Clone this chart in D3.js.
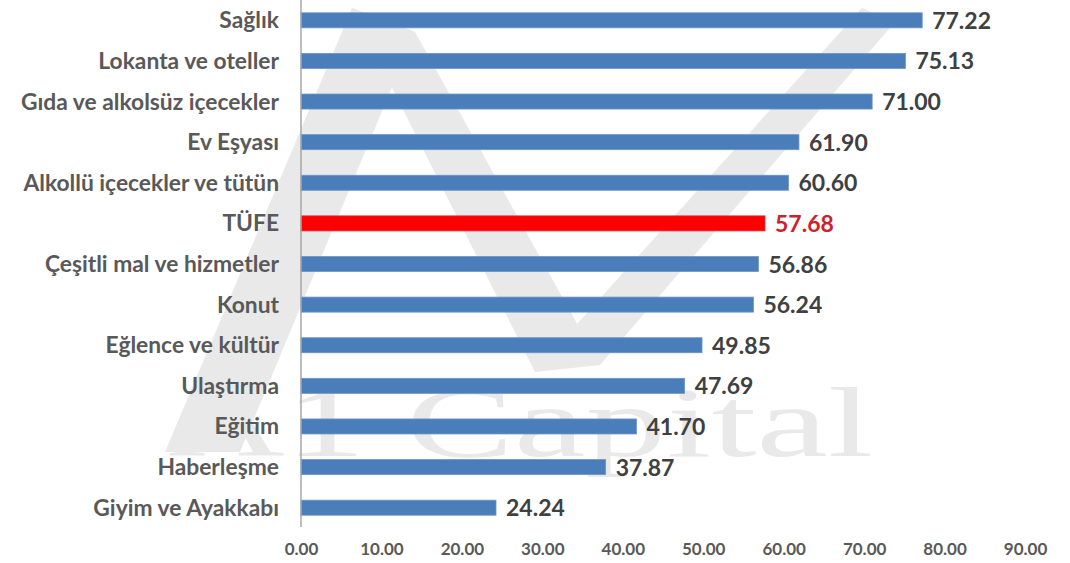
<!DOCTYPE html>
<html lang="tr">
<head>
<meta charset="utf-8">
<title>TÜFE kalemleri</title>
<script src="https://cdn.jsdelivr.net/npm/d3@7"></script>
<style>
	body { margin: 0; background: #fff; }
	svg { display: block; font-family: Lato, "Open Sans", sans-serif; }
</style>
</head>
<body>
<script>
// categories, top to bottom
var categories = ["Sağlık", "Lokanta ve oteller", "Gıda ve alkolsüz içecekler", "Ev Eşyası",
	"Alkollü içecekler ve tütün", "TÜFE", "Çeşitli mal ve hizmetler", "Konut",
	"Eğlence ve kültür", "Ulaştırma", "Eğitim", "Haberleşme", "Giyim ve Ayakkabı"];
var values = [77.22, 75.13, 71.00, 61.90, 60.60, 57.68, 56.86, 56.24, 49.85, 47.69, 41.70, 37.87, 24.24];
var ticks = [0, 10, 20, 30, 40, 50, 60, 70, 80, 90];
var highlight = "TÜFE";

var w = 1070, h = 563;

var svg = d3.select("body").append("svg")
	.attr("width", w)
	.attr("height", h);

// faint logo watermark in the background
var wm = svg.append("g").attr("fill", "#e9e9e9");
wm.append("path").attr("d", "M165,452 L240,452 L415,32 L352,8 Z");
wm.append("path").attr("d", "M352,8 L415,32 L600,365 L535,372 Z");
wm.append("path").attr("d", "M862,8 L895,22 L600,365 L540,365 Z");
wm.append("text")
	.attr("x", 168).attr("y", 456)
	.attr("textLength", 705)
	.attr("lengthAdjust", "spacingAndGlyphs")
	.style("font-family", "'Liberation Serif', serif")
	.style("font-size", "100px")
	.text("A1 Capital");

var x = d3.scaleLinear().domain([0, 90]).range([301, 1025]);
var y = d3.scaleBand().domain(categories).range([0, 528]).paddingInner(0.63).paddingOuter(0.315);

// bars
svg.selectAll("rect.bar")
	.data(categories)
	.enter()
	.append("rect")
	.attr("class", "bar")
	.attr("x", x(0))
	.attr("y", function(d) { return y(d); })
	.attr("width", function(d, i) { return x(values[i]) - x(0); })
	.attr("height", y.bandwidth())
	.attr("fill", function(d) { return d === highlight ? "#ff0000" : "#4a7ebb"; })
	.attr("stroke", function(d) { return d === highlight ? "#e03030" : "#6f93c4"; })
	.attr("stroke-width", 0.8);

// vertical axis line
svg.append("line")
	.attr("x1", x(0)).attr("x2", x(0))
	.attr("y1", 0).attr("y2", 527)
	.attr("stroke", "#a6a6a6")
	.attr("stroke-width", 1.5);

// category labels
svg.selectAll("text.cat")
	.data(categories)
	.enter()
	.append("text")
	.attr("class", "cat")
	.attr("x", 279)
	.attr("y", function(d) { return y(d) + y.bandwidth() / 2; })
	.attr("dy", "0.35em")
	.attr("text-anchor", "end")
	.attr("fill", "#595959")
	.style("font-size", "22.8px")
	.style("font-weight", "bold")
	.text(function(d) { return d; });

// value labels
svg.selectAll("text.val")
	.data(categories)
	.enter()
	.append("text")
	.attr("class", "val")
	.attr("x", function(d, i) { return x(values[i]) + 10; })
	.attr("y", function(d) { return y(d) + y.bandwidth() / 2; })
	.attr("dy", "0.37em")
	.attr("fill", function(d) { return d === highlight ? "#d0202a" : "#404040"; })
	.style("font-size", "23px")
	.style("font-weight", "bold")
	.text(function(d, i) { return values[i].toFixed(2); });

// bottom tick labels
var axis = d3.axisBottom(x)
	.tickValues(ticks)
	.tickSize(0)
	.tickPadding(0)
	.tickFormat(d3.format(".2f"));

var gx = svg.append("g")
	.attr("transform", "translate(0,549)")
	.call(axis);
gx.select(".domain").remove();
gx.selectAll("text")
	.attr("fill", "#595959")
	.attr("dy", "0.35em")
	.style("font-family", "Lato, 'Open Sans', sans-serif")
	.style("font-size", "17px")
	.style("font-weight", "bold");
</script>
</body>
</html>
